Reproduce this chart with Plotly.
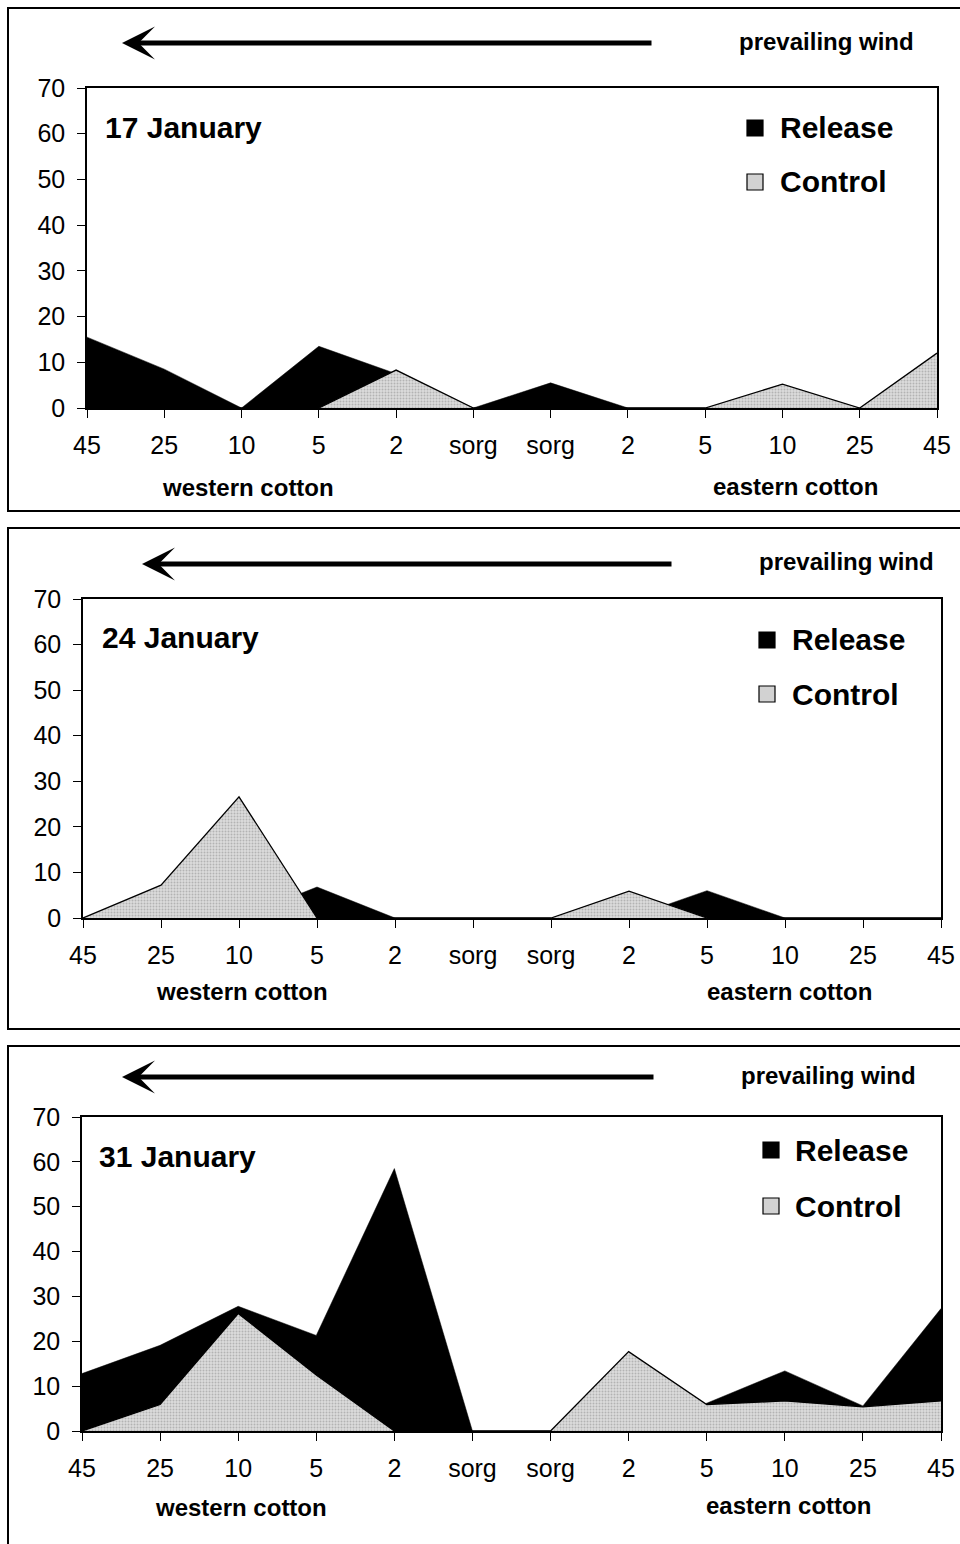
import plotly.graph_objects as go

# Sampling positions across the transect (west -> sorghum -> east)
site_labels = ["45", "25", "10", "5", "2", "sorg", "sorg", "2", "5", "10", "25", "45"]
positions = list(range(len(site_labels)))

# 17 January
release_17 = [15.5, 8.5, 0, 13.5, 7.5, 0, 5.5, 0, 0, 0, 0, 0]
control_17 = [0, 0, 0, 0, 8.3, 0, 0, 0, 0, 5.2, 0, 12.0]

# 24 January
release_24 = [0, 0, 0, 6.8, 0, 0, 0, 0, 6.0, 0, 0, 0]
control_24 = [0, 7.2, 26.6, 0, 0, 0, 0, 5.9, 0, 0, 0, 0]

# 31 January
release_31 = [12.8, 19.1, 27.8, 21.3, 58.5, 0, 0, 0, 6.2, 13.4, 5.6, 27.3]
control_31 = [0, 5.9, 26.2, 12.5, 0, 0, 0, 17.7, 5.9, 6.7, 5.4, 6.7]

dates = ["17 January", "24 January", "31 January"]
releases = [release_17, release_24, release_31]
controls = [control_17, control_24, control_31]

W, H = 960, 1544
FONT = "Liberation Sans, Arial, sans-serif"


def px(x):
    return x / W


def py(y):
    return 1 - y / H


# Panel geometry in pixels
panels = [
    dict(plot=(87, 937, 88, 408), box=(8, 8, 511), title=(103, 128),
         leg_sq=747, leg_txt=778, leg_y=(128, 182), wind=(916, 42),
         arrow=(122, 653, 43), west=(248, 487), east=(795, 486)),
    dict(plot=(83, 941, 599, 918), box=(8, 528, 1029), title=(100, 637),
         leg_sq=759, leg_txt=790, leg_y=(640, 694), wind=(936, 562),
         arrow=(142, 673, 564), west=(242, 992), east=(789, 992)),
    dict(plot=(82, 941, 1117, 1431), box=(8, 1046, 1560), title=(97, 1156),
         leg_sq=763, leg_txt=793, leg_y=(1150, 1206), wind=(918, 1075),
         arrow=(122, 655, 1077), west=(241, 1507), east=(788, 1505)),
]

CONTROL_FILL = "#d2d2d2"

fig = go.Figure()
shapes = []
annotations = []

for i, p in enumerate(panels):
    n = "" if i == 0 else str(i + 1)
    xa, ya = "x" + n, "y" + n
    x0, x1, ytop, ybot = p["plot"]

    fig.add_trace(go.Scatter(
        x=positions, y=releases[i], xaxis=xa, yaxis=ya, mode="lines",
        fill="tozeroy", fillcolor="black", line=dict(color="black", width=0.5),
        showlegend=False, hoverinfo="skip"))
    fig.add_trace(go.Scatter(
        x=positions, y=controls[i], xaxis=xa, yaxis=ya, mode="lines",
        fill="tozeroy", fillcolor=CONTROL_FILL,
        fillpattern=dict(shape=".", bgcolor="#dcdcdc", fgcolor="#8a8a8a",
                         size=3, solidity=0.35),
        line=dict(color="black", width=1.3),
        showlegend=False, hoverinfo="skip"))

    fig.update_layout(**{
        "xaxis" + n: dict(
            domain=[px(x0), px(x1)], anchor=ya, range=[0, 11],
            tickmode="array", tickvals=positions, ticktext=site_labels,
            ticks="outside", ticklen=8, tickwidth=1, tickcolor="black",
            ticklabelstandoff=6,
            showline=True, linecolor="black", linewidth=1.5, mirror=True,
            showgrid=False, zeroline=False, fixedrange=True, automargin=False,
            tickfont=dict(family=FONT, size=25, color="black")),
        "yaxis" + n: dict(
            domain=[py(ybot), py(ytop)], anchor=xa, range=[0, 70],
            dtick=10, ticks="outside", ticklen=8, tickwidth=1,
            tickcolor="black", ticklabelstandoff=7,
            showline=True, linecolor="black",
            linewidth=1.5, mirror=True, showgrid=False, zeroline=False,
            fixedrange=True, automargin=False,
            tickfont=dict(family=FONT, size=25, color="black")),
    })

    # outer frame of the panel
    bx, btop, bbot = p["box"]
    shapes.append(dict(type="rect", xref="paper", yref="paper",
                       x0=px(bx), x1=px(975), y0=py(bbot), y1=py(btop),
                       line=dict(color="black", width=2), layer="below"))

    # date label
    tx, ty = p["title"]
    annotations.append(dict(xref="paper", yref="paper", x=px(tx), y=py(ty),
                            xanchor="left", yanchor="middle", showarrow=False,
                            text="<b>%s</b>" % dates[i],
                            font=dict(family=FONT, size=30, color="black")))

    # legend keys
    sq = p["leg_sq"]
    for (label, fillc), ly in zip([("Release", "black"), ("Control", CONTROL_FILL)],
                                  p["leg_y"]):
        shapes.append(dict(type="rect", xref="paper", yref="paper",
                           x0=px(sq), x1=px(sq + 16), y0=py(ly + 8), y1=py(ly - 8),
                           fillcolor=fillc, line=dict(color="black", width=1.2)))
        annotations.append(dict(xref="paper", yref="paper", x=px(p["leg_txt"]),
                                y=py(ly), xanchor="left", yanchor="middle",
                                showarrow=False, text="<b>%s</b>" % label,
                                font=dict(family=FONT, size=30, color="black")))

    # wind direction
    wx, wy = p["wind"]
    annotations.append(dict(xref="paper", yref="paper", x=px(wx), y=py(wy),
                            xanchor="right", yanchor="middle", showarrow=False,
                            text="<b>prevailing wind</b>",
                            font=dict(family=FONT, size=24, color="black")))
    tip, tail, ay = p["arrow"]
    annotations.append(dict(xref="paper", yref="paper", x=px(tip), y=py(ay),
                            ax=tail - tip, ay=0, text="", showarrow=True,
                            arrowhead=3, arrowsize=1.1, arrowwidth=5,
                            arrowcolor="black"))

    # field labels
    for key, label in [("west", "western cotton"), ("east", "eastern cotton")]:
        cx, cy = p[key]
        annotations.append(dict(xref="paper", yref="paper", x=px(cx), y=py(cy),
                                xanchor="center", yanchor="middle",
                                showarrow=False, text="<b>%s</b>" % label,
                                font=dict(family=FONT, size=24, color="black")))

fig.update_layout(width=W, height=H, margin=dict(l=0, r=0, t=0, b=0, pad=0),
                  paper_bgcolor="white", plot_bgcolor="white",
                  shapes=shapes, annotations=annotations, showlegend=False)

fig.write_html("out.html")
